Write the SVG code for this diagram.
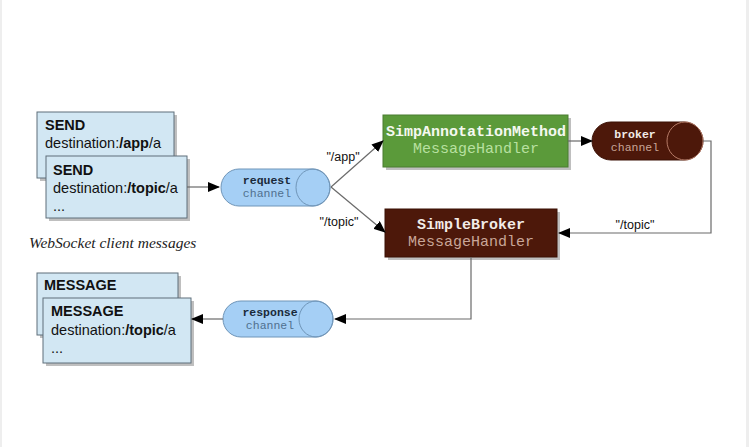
<svg xmlns="http://www.w3.org/2000/svg" width="749" height="447" viewBox="0 0 749 447">
<style>
.msg{fill:#d2e7f3;stroke:#5f6f7a;stroke-width:1}
.shadow{fill:#8a8a8a;opacity:0.55}
.mt{font-family:"Liberation Sans",Arial,sans-serif;font-size:14.5px;fill:#111}
.b{font-weight:bold}
.ch{fill:#a5cff5;stroke:#6f95b8;stroke-width:1}
.cht{font-family:"Liberation Mono","Courier New",monospace;font-size:11.5px;text-anchor:middle}
.ht{font-family:"Liberation Mono","Courier New",monospace;font-size:15px;text-anchor:middle}
.conn{fill:none;stroke:#6a6a6a;stroke-width:1.2}
.lbl{font-family:"Liberation Sans",Arial,sans-serif;font-size:12.5px;fill:#111;text-anchor:middle}
</style>
<defs>
<marker id="ah" markerWidth="12" markerHeight="10" refX="11" refY="5" orient="auto" markerUnits="userSpaceOnUse">
<path d="M0,0 L12,5 L0,10 Z" fill="#000"/>
</marker>
</defs>
<rect x="0" y="0" width="749" height="447" fill="#fff"/>
<rect x="0" y="0" width="2" height="447" fill="#eee"/>
<rect x="746" y="0" width="3" height="447" fill="#eee"/>

<g id="send-back">
<rect class="shadow" x="40" y="115" width="137" height="66"/>
<rect class="msg" x="37" y="112" width="137" height="66"/>
<text class="mt b" x="45" y="130">SEND</text>
<text class="mt" x="45" y="148">destination:<tspan class="b">/app</tspan>/a</text>
</g>
<g id="send-front">
<rect class="shadow" x="49" y="159" width="141" height="62"/>
<rect class="msg" x="46" y="156" width="141" height="62"/>
<text class="mt b" x="53" y="175">SEND</text>
<text class="mt" x="53" y="193">destination:<tspan class="b">/topic</tspan>/a</text>
<text class="mt" x="53" y="211">...</text>
</g>
<g id="caption">
<text x="29" y="248" font-family="Liberation Serif,'Times New Roman',serif" font-style="italic" font-size="15.5" fill="#222">WebSocket client messages</text>
</g>

<g id="request-channel">
<rect class="ch" x="221" y="169" width="109" height="37" rx="18" ry="18.5"/>
<ellipse cx="313" cy="187.5" rx="17" ry="18.5" fill="none" stroke="#6f95b8"/>
<text class="cht" x="267" y="184" font-weight="bold" fill="#1a2a3a">request</text>
<text class="cht" x="267" y="197" fill="#4f6f8f">channel</text>
</g>

<g id="simp-annotation">
<rect class="shadow" x="386" y="118" width="185" height="52"/>
<rect x="383" y="115" width="185" height="52" fill="#5b9a3a" stroke="#4a7d30"/>
<text class="ht" x="476" y="136" font-weight="bold" fill="#f4f8f0">SimpAnnotationMethod</text>
<text class="ht" x="476" y="153" fill="#b8e0a0">MessageHandler</text>
</g>

<g id="broker-channel">
<rect x="592" y="122" width="111" height="38" rx="19" ry="19" fill="#4d180a" stroke="#3a1005"/>
<ellipse cx="685" cy="141" rx="18" ry="19" fill="none" stroke="#b57a66"/>
<text class="cht" x="635" y="138" font-weight="bold" fill="#f2ece8">broker</text>
<text class="cht" x="635" y="151" fill="#c9a698">channel</text>
</g>

<g id="simple-broker">
<rect class="shadow" x="388" y="212" width="172" height="48"/>
<rect x="385" y="209" width="172" height="48" fill="#4d180a" stroke="#3a1005"/>
<text class="ht" x="471" y="229" font-weight="bold" fill="#f2ece8">SimpleBroker</text>
<text class="ht" x="471" y="246" fill="#c9a698">MessageHandler</text>
</g>

<g id="message-back">
<rect class="shadow" x="40" y="276" width="141" height="62"/>
<rect class="msg" x="37" y="273" width="141" height="62"/>
<text class="mt b" x="44" y="290">MESSAGE</text>
</g>
<g id="message-front">
<rect class="shadow" x="46" y="301" width="148" height="65"/>
<rect class="msg" x="43" y="298" width="148" height="65"/>
<text class="mt b" x="51" y="316">MESSAGE</text>
<text class="mt" x="51" y="335">destination:<tspan class="b">/topic</tspan>/a</text>
<text class="mt" x="51" y="353">...</text>
</g>

<g id="response-channel">
<rect class="ch" x="223" y="301" width="110" height="36" rx="18" ry="18"/>
<ellipse cx="316" cy="319" rx="17" ry="18" fill="none" stroke="#6f95b8"/>
<text class="cht" x="270" y="316" font-weight="bold" fill="#1a2a3a">response</text>
<text class="cht" x="270" y="329" fill="#4f6f8f">channel</text>
</g>

<g id="connectors">
<path class="conn" d="M187,187 L219,187" marker-end="url(#ah)"/>
<path class="conn" d="M331,187 L383,141" marker-end="url(#ah)"/>
<path class="conn" d="M331,187 L385,232" marker-end="url(#ah)"/>
<path class="conn" d="M568,141 L592,141" marker-end="url(#ah)"/>
<path class="conn" d="M703,141 L711,141 L711,233 L559,233" marker-end="url(#ah)"/>
<path class="conn" d="M471,257 L471,319 L335,319" marker-end="url(#ah)"/>
<path class="conn" d="M223,319 L192,319" marker-end="url(#ah)"/>
<text class="lbl" x="343" y="161">"/app"</text>
<text class="lbl" x="339" y="226">"/topic"</text>
<text class="lbl" x="635" y="229">"/topic"</text>
</g>
</svg>
